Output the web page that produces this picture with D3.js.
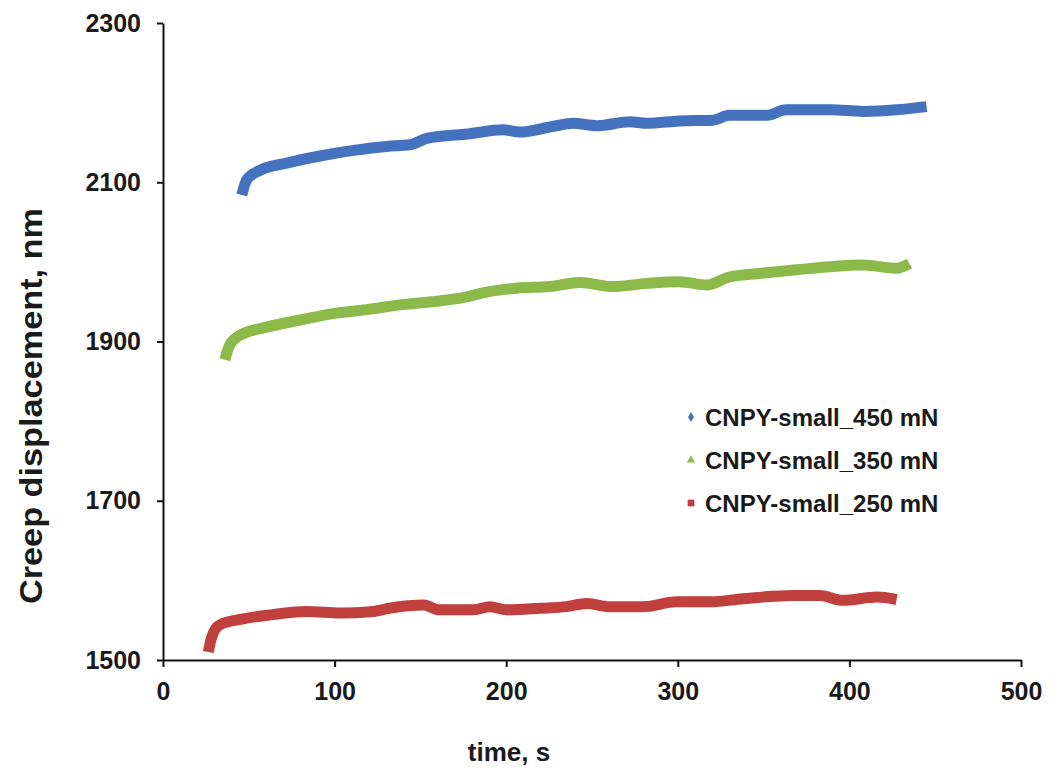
<!DOCTYPE html>
<html>
<head>
<meta charset="utf-8">
<script src="https://cdn.jsdelivr.net/npm/d3@7"></script>
<style>
  html, body { margin: 0; padding: 0; background: #ffffff; }
  svg { display: block; }
  text { font-family: "Liberation Sans", Arial, sans-serif; font-weight: bold; fill: #1a1a1a; }
</style>
</head>
<body>
<svg id="chart" width="1052" height="777"></svg>
<script>
// ---- data ----
const seriesNames = ["CNPY-small_450 mN", "CNPY-small_350 mN", "CNPY-small_250 mN"];
const seriesColors = ["#4472BE", "#8CBA4A", "#C0403E"];

const time450 = [45.9, 48.8, 56.5, 72, 91.5, 111, 130, 144, 153.7, 179, 198, 208, 227, 239, 253, 272, 282, 301, 320.5, 330, 352, 363, 389, 408, 427.5, 445];
const disp450 = [2084, 2103, 2115, 2124, 2133, 2140, 2145, 2147, 2155, 2161, 2166, 2163, 2170, 2174, 2171, 2176, 2174, 2177, 2178, 2184, 2184, 2191, 2191, 2189, 2191, 2195];

const time350 = [36, 39, 45, 60.4, 80, 99, 118.7, 138, 157, 177, 186.5, 206, 225.5, 243, 262, 282, 301, 317, 330, 350, 369, 389, 408, 427.5, 435];
const disp350 = [1877, 1896, 1908, 1918, 1927, 1935, 1940, 1946, 1950, 1956, 1961, 1967, 1969, 1974, 1969, 1973, 1975, 1971, 1981, 1986, 1990, 1994, 1996, 1992, 1998];

const time250 = [26.4, 28.4, 33, 45, 64, 84, 103, 122.6, 132, 152, 161, 181, 190.5, 200, 220, 235, 247, 260, 280, 299, 319, 338, 367, 383, 396, 416, 427.5];
const disp250 = [1510, 1529, 1544, 1551, 1557, 1561, 1559, 1561, 1565, 1569, 1563, 1563, 1567, 1563, 1565, 1567, 1571, 1567, 1567, 1573, 1573, 1577, 1581, 1581, 1575, 1579, 1576];

const xTicks = [0, 100, 200, 300, 400, 500];
const yTicks = [1500, 1700, 1900, 2100, 2300];
const xTitle = "time, s";
const yTitle = "Creep displacement, nm";

// ---- chart ----
const svg = d3.select("#chart");
const x = d3.scaleLinear().domain([0, 500]).range([163, 1021]);
const y = d3.scaleLinear().domain([1500, 2300]).range([660, 23]);

const series = [
  { name: seriesNames[0], color: seriesColors[0], t: time450, v: disp450, marker: d3.symbolDiamond, msize: 30 },
  { name: seriesNames[1], color: seriesColors[1], t: time350, v: disp350, marker: d3.symbolTriangle, msize: 30 },
  { name: seriesNames[2], color: seriesColors[2], t: time250, v: disp250, marker: d3.symbolSquare, msize: 45 }
];

const line = d3.line().x(d => x(d[0])).y(d => y(d[1])).curve(d3.curveMonotoneX);

// data lines (drawn first, axes on top)
series.forEach(s => {
  const pts = s.t.map((t, i) => [t, s.v[i]]);
  svg.append("path")
    .datum(pts)
    .attr("d", line)
    .attr("fill", "none")
    .attr("stroke", s.color)
    .attr("stroke-width", 11)
    .attr("stroke-linejoin", "round")
    .attr("stroke-linecap", "butt");
});

// axes
const xAxis = svg.append("g")
  .attr("transform", `translate(0,${y(1500)})`)
  .call(d3.axisBottom(x).tickValues(xTicks).tickSize(7).tickSizeOuter(0).tickPadding(15).tickFormat(d3.format("d")));
const yAxis = svg.append("g")
  .attr("transform", `translate(${x(0)},0)`)
  .call(d3.axisLeft(y).tickValues(yTicks).tickSize(6).tickSizeOuter(0).tickPadding(16).tickFormat(d3.format("d")));

[xAxis, yAxis].forEach(g => {
  g.select(".domain").attr("stroke", "#111").attr("stroke-width", 2);
  g.selectAll(".tick line").attr("stroke", "#111").attr("stroke-width", 2);
  g.selectAll(".tick text").attr("font-size", 25).attr("font-family", "Liberation Sans, Arial, sans-serif").attr("font-weight", "bold").attr("fill", "#1a1a1a");
});

// axis titles
svg.append("text")
  .attr("x", 509).attr("y", 761)
  .attr("text-anchor", "middle")
  .attr("font-size", 26)
  .text(xTitle);
svg.append("text")
  .attr("transform", `translate(42,${406}) rotate(-90)`)
  .attr("text-anchor", "middle")
  .attr("font-size", 31)
  .attr("textLength", 396)
  .attr("lengthAdjust", "spacingAndGlyphs")
  .text(yTitle);

// legend
const legendY = [417, 460, 503];
series.forEach((s, i) => {
  svg.append("path")
    .attr("d", d3.symbol().type(s.marker).size(s.msize)())
    .attr("transform", `translate(691,${legendY[i]})`)
    .attr("fill", s.color);
  svg.append("text")
    .attr("x", 705).attr("y", legendY[i])
    .attr("dy", "0.36em")
    .attr("font-size", 24)
    .text(s.name);
});
</script>
</body>
</html>
